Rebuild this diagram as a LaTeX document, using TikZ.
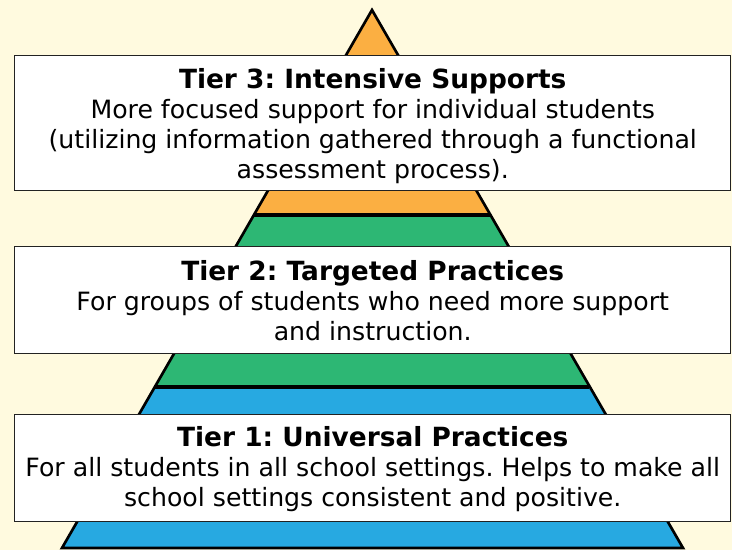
\documentclass[tikz,border=0pt]{standalone}
\usepackage{fontspec}
\setmainfont{DejaVu Sans}
\definecolor{bgc}{HTML}{FFFADF}
\definecolor{orangeband}{HTML}{FBAF42}
\definecolor{greenband}{HTML}{2DB774}
\definecolor{blueband}{HTML}{27A9E1}
\definecolor{boxline}{HTML}{222222}
\newcommand{\tiertitle}[1]{{\fontsize{19.8pt}{22.5pt}\selectfont\bfseries #1}}
\begin{document}
\frenchspacing
\begin{tikzpicture}[x=0.75pt,y=-0.75pt,
  tierbox/.style={draw=boxline,line width=1.1pt,fill=white,anchor=north west,inner sep=0pt},
  tiertext/.style={align=center,font=\fontsize{18.9pt}{22.5pt}\selectfont,inner sep=0pt},
  edge/.style={line width=2pt,line join=miter},
  sep/.style={line width=2.8pt}]
\fill[bgc] (0,0) rectangle (732,550);
\useasboundingbox (0,0) rectangle (732,550);
% pyramid bands
\coordinate (apex) at (372,10);
\coordinate (bl) at (62,548);
\coordinate (br) at (683,548);
\coordinate (ol) at (253.9,215);
\coordinate (or) at (490.1,215);
\coordinate (gl) at (155.2,387);
\coordinate (gr) at (588.8,387);
\fill[orangeband] (apex) -- (or) -- (ol) -- cycle;
\fill[greenband] (ol) -- (or) -- (gr) -- (gl) -- cycle;
\fill[blueband] (gl) -- (gr) -- (br) -- (bl) -- cycle;
\draw[sep] (ol) -- (or);
\draw[sep] (gl) -- (gr);
\draw[edge] (apex) -- (br) -- (bl) -- cycle;
% boxes
\node[tierbox,minimum width=716*0.75pt,minimum height=135*0.75pt] (b3) at (14,55) {};
\node[tierbox,minimum width=716*0.75pt,minimum height=107*0.75pt] (b2) at (14,246) {};
\node[tierbox,minimum width=716*0.75pt,minimum height=107*0.75pt] (b1) at (14,414) {};
\node[tiertext] (t3) at ([yshift=-2.2pt]b3.center) {\tiertitle{Tier 3: Intensive Supports}\\More focused support for individual students\\(utilizing information gathered through a functional\\assessment process).};
\node[tiertext] (t2) at (b2.center) {\tiertitle{Tier 2: Targeted Practices}\\For groups of students who need more support\\and instruction.};
\node[tiertext] (t1) at ([yshift=-0.8pt]b1.center) {\tiertitle{Tier 1: Universal Practices}\\For all students in all school settings. Helps to make all\\school settings consistent and positive.};
\end{tikzpicture}
\end{document}
